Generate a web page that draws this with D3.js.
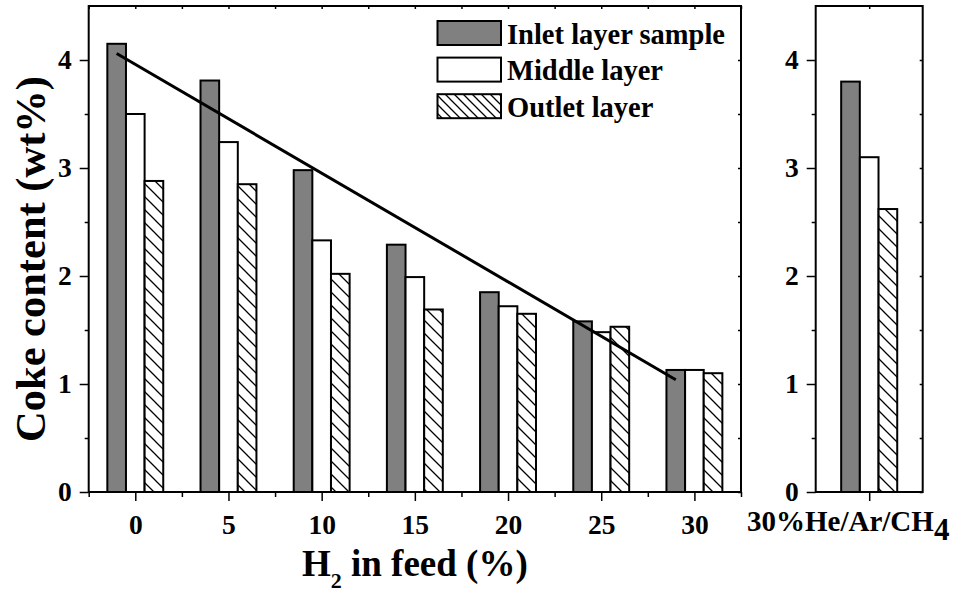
<!DOCTYPE html>
<html>
<head>
<meta charset="utf-8">
<script src="https://cdn.jsdelivr.net/npm/d3@7"></script>
<style>
  html, body { margin: 0; padding: 0; background: #fff; }
  svg { display: block; }
  text { font-family: "Liberation Serif", "Times New Roman", serif; font-weight: bold; fill: #000; }
</style>
</head>
<body>
<svg id="chart" width="954" height="596"></svg>
<script>
// H2 content in the feed (%) for each bar group
const h2Feed = [0, 5, 10, 15, 20, 25, 30];
// Coke content (wt%) per reactor layer
const inletLayer  = [4.15, 3.81, 2.98, 2.29, 1.85, 1.58, 1.13];
const middleLayer = [3.50, 3.24, 2.33, 1.99, 1.72, 1.48, 1.13];
const outletLayer = [2.88, 2.85, 2.02, 1.69, 1.65, 1.53, 1.10];
// Reference run with 30% He/Ar/CH4 feed
const refLabel = "30%He/Ar/CH";
const refInlet = 3.80, refMiddle = 3.10, refOutlet = 2.62;
// Linear trend drawn through the inlet-layer bars
const trendX = [-1, 29];
const trendY = [4.06, 1.04];
// Axis ticks
const yTicks = [0, 1, 2, 3, 4];
const yMinor = [0.5, 1.5, 2.5, 3.5];
const xTicks = [0, 5, 10, 15, 20, 25, 30];
const xMinor = [-2.5, 2.5, 7.5, 12.5, 17.5, 22.5, 27.5, 32.5];
const seriesNames = ["Inlet layer sample", "Middle layer", "Outlet layer"];

const svg = d3.select("#chart");
const fills = ["#808080", "#ffffff", "url(#hatch)"];
const legendFills = ["#808080", "#ffffff", "url(#hatchSmall)"];

// Hatch patterns for the outlet layer
const defs = svg.append("defs");
function hatch(id, s) {
  const p = defs.append("pattern").attr("id", id).attr("patternUnits", "userSpaceOnUse")
    .attr("width", s).attr("height", s);
  p.append("rect").attr("width", s).attr("height", s).attr("fill", "#fff");
  p.append("path").attr("d", `M${-s},0 L${s},${2*s} M0,${-s} L${2*s},${s} M${-s/2},${-s/2} L${s*1.5},${s*1.5}`)
    .attr("stroke", "#000").attr("stroke-width", 1.3).attr("fill", "none");
}
hatch("hatch", 13);
hatch("hatchSmall", 9);

const y = d3.scaleLinear().domain([0, 4.5]).range([492, 6]);
const xL = d3.scaleLinear().domain([-2.5, 32.5]).range([88.7, 741]);
const xR = d3.scaleLinear().domain([-2.86, 2.86]).range([815.7, 922.7]);
const barW = xL(1) - xL(0);
const tickFont = 27.5;

// ---------- Left panel ----------
const left = svg.append("g");
const groups = [inletLayer, middleLayer, outletLayer];
groups.forEach((vals, s) => {
  left.selectAll(null).data(h2Feed).enter().append("rect")
    .attr("x", (d) => xL(d + s - 1) - barW / 2)
    .attr("y", (d, i) => y(vals[i]))
    .attr("width", barW)
    .attr("height", (d, i) => y(0) - y(vals[i]))
    .attr("fill", fills[s])
    .attr("stroke", "#000").attr("stroke-width", 2);
});

left.append("line")
  .attr("x1", xL(trendX[0])).attr("y1", y(trendY[0]))
  .attr("x2", xL(trendX[1])).attr("y2", y(trendY[1]))
  .attr("stroke", "#000").attr("stroke-width", 3);

function styleAxis(g, fs) {
  g.select(".domain").remove();
  g.selectAll(".tick line").attr("stroke", "#000").attr("stroke-width", 1.5);
  g.selectAll(".tick text").style("font-size", fs + "px")
    .style("font-family", '"Liberation Serif", serif').style("font-weight", "bold");
}

function frame(x0, x1) {
  svg.append("rect").attr("x", x0).attr("y", y(4.5)).attr("width", x1 - x0).attr("height", y(0) - y(4.5))
    .attr("fill", "none").attr("stroke", "#000").attr("stroke-width", 2);
}

// y axis (left panel)
svg.append("g").attr("transform", `translate(${xL(-2.5)},0)`)
  .call(d3.axisLeft(y).tickValues(yTicks).tickSize(9).tickPadding(8).tickFormat(d3.format("d")))
  .call((g) => styleAxis(g, tickFont));
svg.append("g").attr("transform", `translate(${xL(-2.5)},0)`)
  .call(d3.axisLeft(y).tickValues(yMinor).tickSize(4).tickFormat(""))
  .call((g) => styleAxis(g, tickFont));
// mirrored ticks on right edge (inward)
svg.append("g").attr("transform", `translate(${xL(32.5)},0)`)
  .call(d3.axisLeft(y).tickValues(yTicks.concat(yMinor)).tickSize(3).tickFormat(""))
  .call((g) => styleAxis(g, tickFont));

// x axis (left panel)
svg.append("g").attr("transform", `translate(0,${y(0)})`)
  .call(d3.axisBottom(xL).tickValues(xTicks).tickSize(9).tickPadding(13).tickFormat(d3.format("d")))
  .call((g) => styleAxis(g, tickFont));
svg.append("g").attr("transform", `translate(0,${y(0)})`)
  .call(d3.axisBottom(xL).tickValues(xMinor).tickSize(5).tickFormat(""))
  .call((g) => styleAxis(g, tickFont));
svg.append("g").attr("transform", `translate(0,${y(4.5)})`)
  .call(d3.axisBottom(xL).tickValues(xTicks.concat(xMinor)).tickSize(3).tickFormat(""))
  .call((g) => styleAxis(g, tickFont));

frame(xL(-2.5), xL(32.5));

// Legend
const lg = svg.append("g");
seriesNames.forEach((name, i) => {
  const ly = 21 + i * 36.6;
  lg.append("rect").attr("x", 437.5).attr("y", ly).attr("width", 63.5).attr("height", 24)
    .attr("fill", legendFills[i]).attr("stroke", "#000").attr("stroke-width", 2);
  lg.append("text").attr("x", 507).attr("y", ly + 22.5).style("font-size", "28.5px").text(name);
});

// Axis titles
svg.append("text")
  .attr("transform", `translate(45,${(y(0) + y(4.5)) / 2 + 10}) rotate(-90)`)
  .attr("text-anchor", "middle").style("font-size", "42.5px")
  .text("Coke content (wt%)");

const xt = svg.append("text").attr("x", xL(15)).attr("y", 576)
  .attr("text-anchor", "middle").style("font-size", "37px");
xt.append("tspan").text("H");
xt.append("tspan").attr("dy", 12).style("font-size", "22px").text("2");
xt.append("tspan").attr("dy", -12).text(" in feed (%)");

// ---------- Right panel ----------
const refVals = [refInlet, refMiddle, refOutlet];
svg.append("g").selectAll("rect").data(refVals).enter().append("rect")
  .attr("x", (d, i) => xR(i - 1) - barW / 2)
  .attr("y", (d) => y(d))
  .attr("width", barW)
  .attr("height", (d) => y(0) - y(d))
  .attr("fill", (d, i) => fills[i])
  .attr("stroke", "#000").attr("stroke-width", 2);

svg.append("g").attr("transform", `translate(${xR(-2.86)},0)`)
  .call(d3.axisLeft(y).tickValues(yTicks).tickSize(9).tickPadding(8).tickFormat(d3.format("d")))
  .call((g) => styleAxis(g, tickFont));
svg.append("g").attr("transform", `translate(${xR(-2.86)},0)`)
  .call(d3.axisLeft(y).tickValues(yMinor).tickSize(4).tickFormat(""))
  .call((g) => styleAxis(g, tickFont));
svg.append("g").attr("transform", `translate(${xR(2.86)},0)`)
  .call(d3.axisLeft(y).tickValues(yTicks.concat(yMinor)).tickSize(3).tickFormat(""))
  .call((g) => styleAxis(g, tickFont));
svg.append("g").attr("transform", `translate(0,${y(0)})`)
  .call(d3.axisBottom(xR).tickValues([0]).tickSize(9).tickFormat(""))
  .call((g) => styleAxis(g, tickFont));
svg.append("g").attr("transform", `translate(0,${y(4.5)})`)
  .call(d3.axisBottom(xR).tickValues([0]).tickSize(3).tickFormat(""))
  .call((g) => styleAxis(g, tickFont));

frame(xR(-2.86), xR(2.86));

const rl = svg.append("text").attr("x", xR(0) - 21).attr("y", 531)
  .attr("text-anchor", "middle").style("font-size", "29px");
rl.append("tspan").text(refLabel);
rl.append("tspan").attr("dy", 9).style("font-size", "31px").text("4");
</script>
</body>
</html>
